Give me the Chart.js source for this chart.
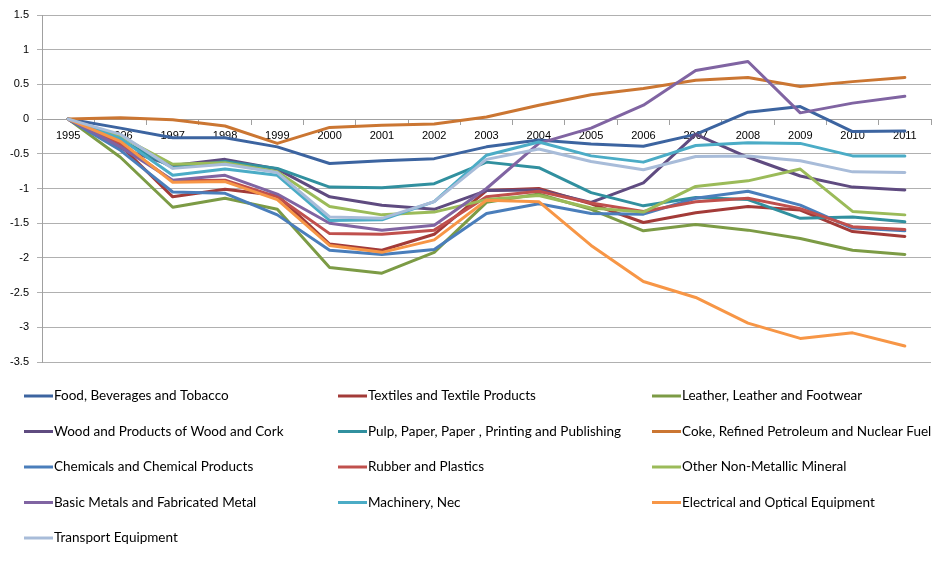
<!DOCTYPE html>
<html>
<head>
<meta charset="utf-8">
<script src="https://cdn.jsdelivr.net/npm/chart.js@4/dist/chart.umd.min.js"></script>
<style>
html,body{margin:0;padding:0;background:#fff;}
#wrap{width:946px;height:564px;position:relative;}
</style>
</head>
<body>
<div id="wrap"><canvas id="c" width="946" height="564"></canvas></div>
<script>
const years = ['1995','1996','1997','1998','1999','2000','2001','2002','2003','2004','2005','2006','2007','2008','2009','2010','2011'];
const yTicks = [1.5, 1, 0.5, 0, -0.5, -1, -1.5, -2, -2.5, -3, -3.5];

const seriesNames = [
  'Food, Beverages and Tobacco',
  'Textiles and Textile Products',
  'Leather, Leather and Footwear',
  'Wood and Products of Wood and Cork',
  'Pulp, Paper, Paper , Printing and Publishing',
  'Coke, Refined Petroleum and Nuclear Fuel',
  'Chemicals and Chemical Products',
  'Rubber and Plastics',
  'Other Non-Metallic Mineral',
  'Basic Metals and Fabricated Metal',
  'Machinery, Nec',
  'Electrical and Optical Equipment',
  'Transport Equipment'
];

const food       = [0, -0.13, -0.27, -0.27, -0.40, -0.64, -0.60, -0.57, -0.40, -0.30, -0.36, -0.39, -0.22, 0.10, 0.18, -0.18, -0.17];
const textiles   = [0, -0.38, -1.12, -1.01, -1.10, -1.80, -1.89, -1.66, -1.03, -1.00, -1.22, -1.49, -1.35, -1.26, -1.31, -1.62, -1.69];
const leather    = [0, -0.55, -1.27, -1.14, -1.30, -2.14, -2.22, -1.92, -1.20, -1.08, -1.30, -1.61, -1.52, -1.60, -1.72, -1.89, -1.95];
const wood       = [0, -0.42, -0.67, -0.58, -0.72, -1.12, -1.24, -1.30, -1.03, -1.02, -1.20, -0.92, -0.22, -0.55, -0.82, -0.98, -1.02];
const pulp       = [0, -0.30, -0.70, -0.61, -0.71, -0.98, -0.99, -0.93, -0.62, -0.70, -1.06, -1.25, -1.13, -1.16, -1.43, -1.41, -1.48];
const coke       = [0, 0.02, -0.01, -0.10, -0.35, -0.12, -0.09, -0.07, 0.03, 0.20, 0.35, 0.44, 0.56, 0.60, 0.47, 0.54, 0.60];
const chemicals  = [0, -0.45, -1.05, -1.07, -1.38, -1.89, -1.95, -1.88, -1.36, -1.22, -1.36, -1.37, -1.14, -1.04, -1.24, -1.57, -1.61];
const rubber     = [0, -0.35, -0.89, -0.88, -1.12, -1.65, -1.66, -1.60, -1.12, -1.04, -1.21, -1.33, -1.19, -1.14, -1.29, -1.55, -1.59];
const otherMin   = [0, -0.25, -0.65, -0.63, -0.76, -1.26, -1.38, -1.34, -1.16, -1.10, -1.28, -1.34, -0.97, -0.89, -0.72, -1.33, -1.38];
const basicMet   = [0, -0.40, -0.88, -0.81, -1.08, -1.50, -1.60, -1.53, -1.00, -0.35, -0.13, 0.20, 0.70, 0.83, 0.09, 0.23, 0.33];
const machinery  = [0, -0.28, -0.81, -0.72, -0.81, -1.46, -1.45, -1.19, -0.52, -0.33, -0.53, -0.62, -0.38, -0.34, -0.35, -0.53, -0.53];
const electrical = [0, -0.32, -0.91, -0.90, -1.16, -1.82, -1.92, -1.74, -1.17, -1.19, -1.82, -2.34, -2.57, -2.94, -3.16, -3.08, -3.27];
const transport  = [0, -0.22, -0.71, -0.65, -0.77, -1.41, -1.43, -1.19, -0.58, -0.43, -0.61, -0.73, -0.54, -0.53, -0.60, -0.76, -0.77];

const seriesValues = [food, textiles, leather, wood, pulp, coke, chemicals, rubber, otherMin, basicMet, machinery, electrical, transport];
const seriesColors = ['#3c64a0','#a33b38','#7c9b45','#5f4b80','#31909f','#cb7632','#4a7ebb','#c0504d','#9bbb59','#8064a2','#4bacc6','#f79646','#a8bcd9'];

const datasets = seriesNames.map((name, i) => ({
  label: name,
  data: seriesValues[i],
  borderColor: seriesColors[i],
  backgroundColor: seriesColors[i],
  borderWidth: 3,
  pointRadius: 0,
  pointHoverRadius: 0,
  tension: 0,
  fill: false,
  borderJoinStyle: 'round',
  borderCapStyle: 'round',
  order: seriesNames.length - i
}));

const gridLegend = {
  id: 'gridLegend',
  afterDraw(chart) {
    const ctx = chart.ctx;
    const colX = [24, 338, 652];
    const rowY0 = 396, rowH = 35.5;
    ctx.save();
    ctx.font = '13.5px Lato, "Liberation Sans", sans-serif';
    ctx.textBaseline = 'middle';
    ctx.textAlign = 'left';
    chart.data.datasets.forEach((ds, i) => {
      const col = i % 3, row = Math.floor(i / 3);
      const x = colX[col], y = rowY0 + row * rowH;
      ctx.strokeStyle = ds.borderColor;
      ctx.lineWidth = 3;
      ctx.beginPath();
      ctx.moveTo(x, y);
      ctx.lineTo(x + 29, y);
      ctx.stroke();
      ctx.fillStyle = '#000';
      ctx.fillText(ds.label, x + 30, y);
    });
    ctx.restore();
  }
};

new Chart(document.getElementById('c'), {
  type: 'line',
  data: { labels: years, datasets },
  plugins: [gridLegend],
  options: {
    responsive: false,
    animation: false,
    devicePixelRatio: 1,
    layout: { padding: { top: 15, right: 15, bottom: 202, left: 0 } },
    plugins: { legend: { display: false }, tooltip: { enabled: false } },
    scales: {
      x: {
        type: 'category',
        position: { y: 0 },
        offset: true,
        afterFit(scale) { scale.height = 0; },
        grid: { display: true, drawOnChartArea: false, drawTicks: true, tickLength: 5, offset: true, color: '#a0a0a0', lineWidth: 1 },
        border: { display: true, color: '#a0a0a0', width: 1 },
        ticks: { color: '#000', font: { family: '"Liberation Sans", Arial, sans-serif', size: 11 }, padding: 5, maxRotation: 0, autoSkip: false }
      },
      y: {
        min: -3.5,
        max: 1.5,
        afterFit(scale) { scale.width = 42; },
        afterBuildTicks(scale) { scale.ticks = yTicks.map(v => ({ value: v })); },
        grid: { color: '#b0b0b0', lineWidth: 1, drawTicks: true, tickLength: 5 },
        border: { display: true, color: '#a0a0a0', width: 1 },
        ticks: { color: '#000', font: { family: '"Liberation Sans", Arial, sans-serif', size: 11 }, padding: 8, callback: (v) => String(v) }
      }
    }
  }
});
</script>
</body>
</html>
